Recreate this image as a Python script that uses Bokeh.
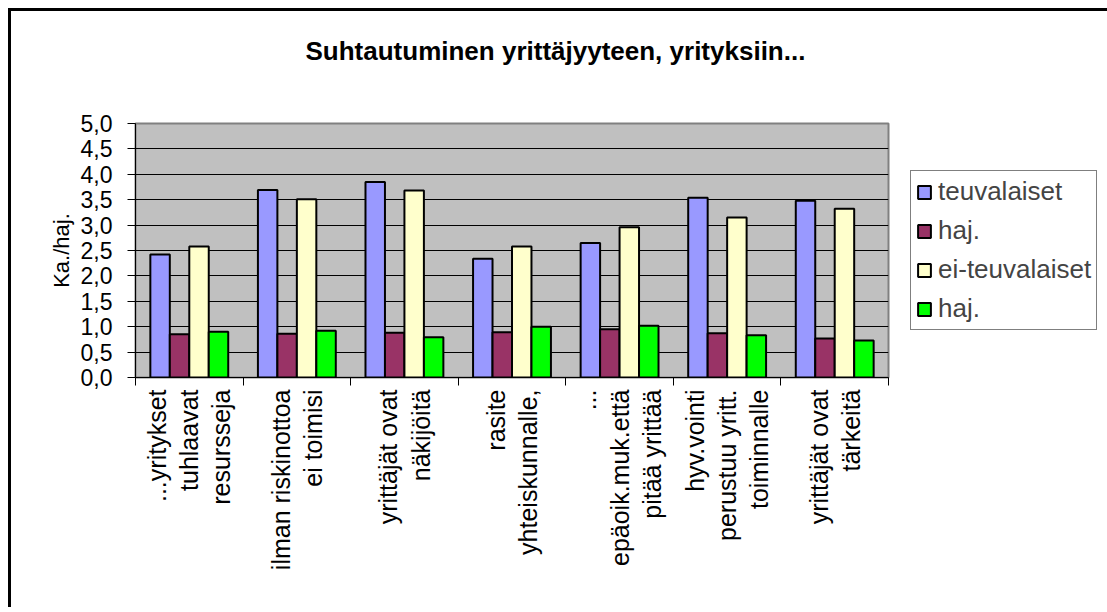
import numpy as np
from bokeh.plotting import figure
from bokeh.models import (FixedTicker, Legend, LegendItem, Title, ColumnDataSource, Range1d)
from bokeh.embed import file_html
from bokeh.resources import INLINE

title_text = "Suhtautuminen yrittäjyyteen, yrityksiin..."
y_label = "Ka./haj."
categories = [
    "...yritykset\ntuhlaavat\nresursseja",
    "ilman riskinottoa\nei toimisi",
    "yrittäjät ovat\nnäkijöitä",
    "rasite\nyhteiskunnalle,",
    "...\nepäoik.muk.että\npitää yrittää",
    "hyv.vointi\nperustuu yritt.\ntoiminnalle",
    "yrittäjät ovat\ntärkeitä",
]
series_names = ["teuvalaiset", "haj.", "ei-teuvalaiset", "haj."]
teuvalaiset = [2.42, 3.69, 3.85, 2.34, 2.65, 3.54, 3.48]
haj_teuv = [0.85, 0.86, 0.88, 0.89, 0.95, 0.87, 0.77]
ei_teuvalaiset = [2.58, 3.51, 3.68, 2.58, 2.96, 3.15, 3.32]
haj_ei = [0.90, 0.92, 0.79, 1.00, 1.02, 0.83, 0.73]
y_ticks = [0.0, 0.5, 1.0, 1.5, 2.0, 2.5, 3.0, 3.5, 4.0, 4.5, 5.0]
y_tick_labels = ["0,0", "0,5", "1,0", "1,5", "2,0", "2,5", "3,0", "3,5", "4,0", "4,5", "5,0"]

colors = ["#9999FF", "#993366", "#FFFFCC", "#00FF00"]
series = [teuvalaiset, haj_teuv, ei_teuvalaiset, haj_ei]

FONT = "Liberation Sans"
n = len(categories)
centers = np.arange(n) + 0.5
bw = 0.181

p = figure(frame_width=753, frame_height=254,
           min_border_left=124, min_border_right=219,
           min_border_top=112, min_border_bottom=230,
           x_range=Range1d(0, n), y_range=Range1d(0, 5),
           title=title_text,
           output_backend="svg", toolbar_location=None, tools="")
p.styles = {"margin-left": "8px", "margin-top": "8px",
            "border-left": "3px solid black", "border-top": "3px solid black"}
p.background_fill_color = "#C0C0C0"
p.border_fill_color = "white"
p.outline_line_color = "#808080"
p.outline_line_width = 2

# title
p.title.text_font = FONT
p.title.text_font_size = "26px"
p.title.text_font_style = "bold"
p.title.text_color = "black"
p.title.align = "left"
p.title.offset = 170
spacer = Title(text=" ", text_font_size="36px")
p.add_layout(spacer, "above")

items = []
for i, (vals, col, name) in enumerate(zip(series, colors, series_names)):
    src = ColumnDataSource(dict(x=centers + (i - 1.5) * bw, top=vals))
    r = p.vbar(x="x", top="top", width=bw, bottom=0, source=src,
               fill_color=col, line_color="black", line_width=2)
    items.append(LegendItem(label=name, renderers=[r]))

# grid
p.xgrid.visible = False
p.ygrid.ticker = FixedTicker(ticks=y_ticks)
p.ygrid.grid_line_color = "black"
p.ygrid.grid_line_width = 1

# y axis
ya = p.yaxis[0]
ya.ticker = FixedTicker(ticks=y_ticks)
ya.major_label_overrides = {t: l for t, l in zip(y_ticks, y_tick_labels)}
ya.major_label_text_font = FONT
ya.major_label_text_font_size = "23px"
ya.major_label_text_color = "black"
ya.major_tick_out = 8
ya.major_tick_in = 0
ya.minor_tick_line_color = None
ya.axis_line_color = "black"
ya.major_tick_line_color = "black"
ya.major_label_standoff = 15
ya.axis_label = y_label
ya.axis_label_text_font = FONT
ya.axis_label_text_font_size = "22px"
ya.axis_label_text_font_style = "normal"
ya.axis_label_text_color = "black"
ya.axis_label_standoff = 4

# x axis: labels at centers, ticks at boundaries
xa = p.xaxis[0]
xa.ticker = FixedTicker(ticks=list(centers), minor_ticks=list(range(n + 1)))
xa.major_label_overrides = {float(c): lab for c, lab in zip(centers, categories)}
xa.major_label_orientation = np.pi / 2
xa.major_label_text_font = FONT
xa.major_label_text_font_size = "25px"
xa.major_label_text_color = "black"
xa.major_label_text_line_height = 1.15
xa.major_tick_line_color = None
xa.minor_tick_out = 8
xa.minor_tick_in = 0
xa.minor_tick_line_color = "black"
xa.axis_line_color = "black"
xa.major_label_standoff = 4

legend = Legend(items=items, location=(22, 47),
                label_text_font=FONT, label_text_font_size="26px",
                glyph_width=16, glyph_height=16, label_height=29,
                spacing=8, padding=5, margin=0, label_standoff=6,
                border_line_color="black", border_line_width=1,
                background_fill_color="white")
p.add_layout(legend, "right")

open("out.html", "w").write(file_html(p, INLINE))
